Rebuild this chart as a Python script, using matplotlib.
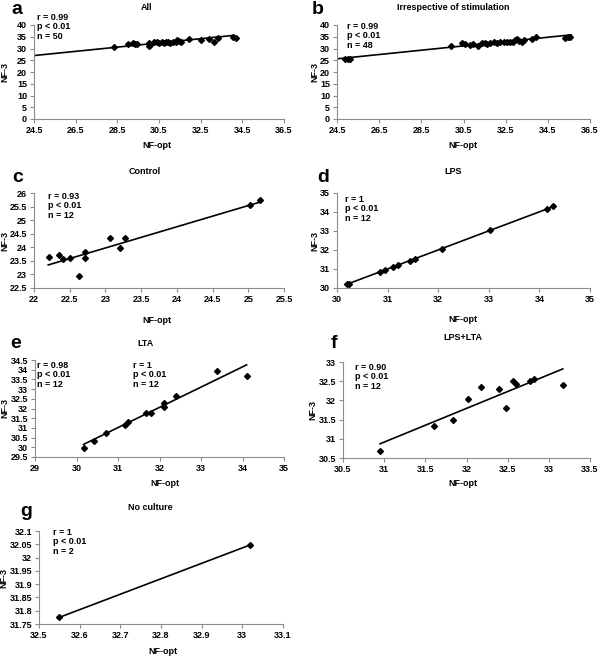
import numpy as np
import matplotlib.pyplot as plt
from matplotlib import rcParams
from matplotlib.ticker import FixedLocator, FuncFormatter

rcParams['font.family'] = ['Liberation Sans', 'DejaVu Sans']
rcParams['font.weight'] = 'bold'

W, H = 600, 656

# panel a: All
a_x = [28.36, 29.03, 29.24, 29.35, 29.46, 30.0, 30.02, 30.06, 30.27, 30.38, 30.5, 30.62, 30.73,
       30.83, 30.94, 31.05, 31.18, 31.3, 31.38, 31.45, 31.54, 31.94, 32.5, 32.9, 33.16, 33.32,
       34.04, 34.2]
a_y = [30.8, 31.8, 32.5, 32.1, 31.8, 32.5, 31.2, 31.6, 32.6, 32.6, 32.5, 32.8, 32.2,
       32.6, 32.8, 32.5, 32.8, 32.6, 33.6, 33.0, 32.6, 33.9, 33.5, 33.9, 32.9, 34.3,
       35.0, 34.5]
a_trend = ([24.5, 34.1], [27.0, 35.6])

# panel b: Irrespective of stimulation
b_x = [24.9, 25.0, 25.1, 29.9, 30.42, 30.58, 30.79, 30.96, 31.17, 31.37, 31.53, 31.6, 31.77,
       31.93, 32.08, 32.24, 32.4, 32.56, 32.7, 32.87, 32.95, 33.03, 33.14, 33.27, 33.35,
       33.74, 33.93, 35.32, 35.48, 35.56]
b_y = [25.4, 25.6, 25.7, 30.9, 32.2, 31.8, 31.3, 31.9, 31.2, 32.5, 32.5, 32.1, 32.5,
       32.8, 32.5, 32.8, 32.9, 32.8, 32.8, 32.9, 33.6, 34.0, 33.3, 32.9, 33.6,
       33.9, 35.0, 34.5, 34.9, 35.0]
b_trend = ([24.5, 35.6], [25.6, 35.8])

# panel c: Control
c_x = [22.21, 22.35, 22.41, 22.5, 22.63, 22.72, 22.72, 23.07, 23.2, 23.28, 25.03, 25.17]
c_y = [23.63, 23.7, 23.56, 23.6, 22.93, 23.81, 23.62, 24.35, 23.99, 24.35, 25.55, 25.73]
c_trend = ([22.2, 25.17], [23.35, 25.67])

# panel d: LPS
d_x = [30.2, 30.23, 30.85, 30.95, 31.1, 31.2, 31.45, 31.55, 32.07, 33.03, 34.15, 34.27]
d_y = [30.2, 30.23, 30.85, 30.93, 31.1, 31.22, 31.43, 31.55, 32.07, 33.05, 34.15, 34.3]
d_trend = ([30.2, 34.27], [30.2, 34.28])

# panel e: LTA
e_x = [30.17, 30.43, 30.72, 31.17, 31.23, 31.68, 31.8, 32.1, 32.1, 32.4, 33.38, 34.1]
e_y = [29.95, 30.35, 30.72, 31.15, 31.3, 31.78, 31.75, 32.3, 32.1, 32.62, 33.95, 33.7]
e_trend = ([30.17, 34.1], [30.15, 34.25])

# panel f: LPS+LTA
f_x = [30.95, 31.6, 31.84, 32.02, 32.18, 32.39, 32.48, 32.57, 32.6, 32.77, 32.82, 33.17]
f_y = [30.68, 31.33, 31.5, 32.03, 32.34, 32.3, 31.81, 32.5, 32.43, 32.5, 32.55, 32.41]
f_trend = ([30.95, 33.17], [30.87, 32.82])

# panel g: No culture
g_x = [32.55, 33.02]
g_y = [31.775, 32.048]
g_trend = ([32.55, 33.02], [31.775, 32.048])

# letter, title, x, y, trend, xticks, yticks, stats, rect(px l, r, t, b),
# letter pos, title pos, xlabel pos, ylabel x
panels = [
    ('a', 'All', a_x, a_y, a_trend, np.arange(24.5, 36.6, 2), np.arange(0, 41, 5),
     [('r = 0.99\np < 0.01\nn = 50', 37, 13)], (34, 284, 25, 119),
     (11, 9), (147, 8), (157, 145), 5),
    ('b', 'Irrespective of stimulation', b_x, b_y, b_trend, np.arange(24.5, 36.6, 2), np.arange(0, 41, 5),
     [('r = 0.99\np < 0.01\nn = 48', 347, 22)], (337, 590, 25, 119),
     (312, 9), (453, 8), (463, 145), 315),
    ('c', 'Control', c_x, c_y, c_trend, np.arange(22, 25.6, 0.5), np.arange(22.5, 26.1, 0.5),
     [('r = 0.93\np < 0.01\nn = 12', 48, 192)], (34, 284, 193, 288),
     (12, 178), (145, 171), (157, 321), 5),
    ('d', 'LPS', d_x, d_y, d_trend, np.arange(30, 35.1, 1), np.arange(30, 35.1, 1),
     [('r = 1\np < 0.01\nn = 12', 345, 195)], (337, 590, 193, 288),
     (317, 178), (453, 171), (463, 319), 315),
    ('e', 'LTA', e_x, e_y, e_trend, np.arange(29, 35.1, 1), np.arange(29.5, 34.6, 0.5),
     [('r = 0.98\np < 0.01\nn = 12', 37, 361), ('r = 1\np < 0.01\nn = 12', 133, 361)],
     (35, 284, 360, 457), (10, 343), (145, 344), (165, 483), 5),
    ('f', 'LPS+LTA', f_x, f_y, f_trend, np.arange(30.5, 33.6, 0.5), np.arange(30.5, 33.1, 0.5),
     [('r = 0.90\np < 0.01\nn = 12', 355, 363)], (343, 590, 362, 458),
     (331, 344), (463, 338), (463, 484), 313),
    ('g', 'No culture', g_x, g_y, g_trend, np.arange(32.5, 33.11, 0.1), np.arange(31.75, 32.11, 0.05),
     [('r = 1\np < 0.01\nn = 2', 53, 528)], (39, 283, 531, 624),
     (20, 512), (150, 508), (163, 651), 4),
]

fmt = FuncFormatter(lambda v, p: '{:g}'.format(round(v, 3)))

fig = plt.figure(figsize=(W / 100, H / 100), dpi=100)

for letter, title, xs, ys, trend, xt, yt, stats, rect, lpos, tpos, xlpos, ylab_x in panels:
    l, r, t, b = rect
    ax = fig.add_axes([l / W, 1 - b / H, (r - l) / W, (b - t) / H])
    ax.plot(trend[0], trend[1], color='black', linewidth=1.2, zorder=2)
    ax.plot(xs, ys, linestyle='none', marker='D', markersize=3, color='black', zorder=3)
    ax.set_xlim(xt[0], xt[-1])
    ax.set_ylim(yt[0], yt[-1])
    ax.xaxis.set_major_locator(FixedLocator(xt))
    ax.yaxis.set_major_locator(FixedLocator(yt))
    ax.xaxis.set_major_formatter(fmt)
    ax.yaxis.set_major_formatter(fmt)
    for s in ['top', 'right']:
        ax.spines[s].set_visible(False)
    for s in ['left', 'bottom']:
        ax.spines[s].set_color('#8c8c8c')
        ax.spines[s].set_linewidth(0.8)
    ax.tick_params(direction='out', length=3, width=0.8, color='#8c8c8c', labelsize=6.5, pad=2)
    for lab in ax.get_xticklabels() + ax.get_yticklabels():
        lab.set_fontweight('bold')
    fig.text(tpos[0] / W, 1 - tpos[1] / H, title, ha='center', va='center', fontsize=6.5, fontweight='bold')
    fig.text(lpos[0] / W, 1 - lpos[1] / H, letter, ha='left', va='center', fontsize=14, fontweight='bold')
    fig.text(xlpos[0] / W, 1 - xlpos[1] / H, 'NF-opt', ha='center', va='center', fontsize=6.5, fontweight='bold')
    fig.text(ylab_x / W, 1 - ((t + b) / 2) / H, 'NF-3', ha='center', va='center', rotation=90,
             fontsize=6.5, fontweight='bold')
    for txt, tx, ty in stats:
        fig.text(tx / W, 1 - ty / H, txt, ha='left', va='top', fontsize=6.5, fontweight='bold',
                 linespacing=1.05)

plt.savefig('out.png', dpi=100)
